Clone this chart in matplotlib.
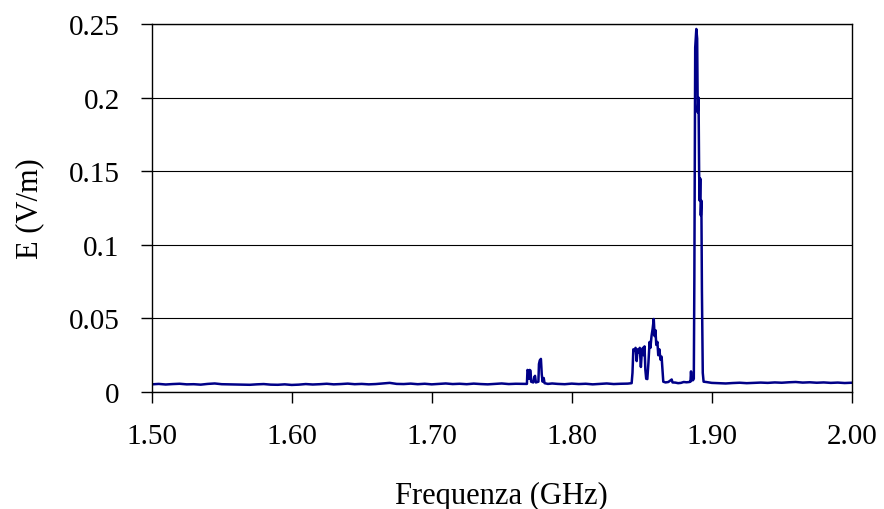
import matplotlib
matplotlib.use("Agg")
import matplotlib.pyplot as plt
from matplotlib.ticker import FormatStrFormatter, FuncFormatter

# frequency (GHz) and field strength (V/m)
freq = [
    1.500, 1.505, 1.510, 1.515, 1.520, 1.525, 1.530, 1.535, 1.540, 1.545,
    1.550, 1.555, 1.560, 1.565, 1.570, 1.575, 1.580, 1.585, 1.590, 1.595,
    1.600, 1.605, 1.610, 1.615, 1.620, 1.625, 1.630, 1.635, 1.640, 1.645,
    1.650, 1.655, 1.660, 1.665, 1.670, 1.675, 1.680, 1.685, 1.690, 1.695,
    1.700, 1.705, 1.710, 1.715, 1.720, 1.725, 1.730, 1.735, 1.740, 1.745,
    1.750, 1.755, 1.760, 1.765,
    # first small group
    1.7680, 1.7684, 1.7692, 1.7696, 1.7700, 1.7706, 1.7710, 1.7725, 1.7732,
    1.7738, 1.7744, 1.7762, 1.7766, 1.7772, 1.7780, 1.7786, 1.7792, 1.7800,
    1.7806, 1.7830,
    1.786, 1.790, 1.795, 1.800, 1.805, 1.810, 1.815, 1.820, 1.825, 1.830,
    1.835, 1.840, 1.8428,
    # second group
    1.8434, 1.8440, 1.8448, 1.8456, 1.8464, 1.8470, 1.8478, 1.8486, 1.8494,
    1.8500, 1.8508, 1.8514, 1.8520, 1.8526, 1.8532, 1.8540, 1.8548, 1.8556,
    1.8562, 1.8570, 1.8578, 1.8586, 1.8592, 1.8598, 1.8604, 1.8612, 1.8618,
    1.8626, 1.8634, 1.8642, 1.8648, 1.8654, 1.8670, 1.8690, 1.8714, 1.8720,
    1.8740, 1.8760, 1.8780, 1.8800, 1.8820, 1.8840, 1.8848, 1.8852, 1.8856,
    # main peak
    1.8866, 1.8872, 1.8876, 1.8882, 1.8890, 1.8896, 1.8900, 1.8906, 1.8910,
    1.8914, 1.8918, 1.8922, 1.8926, 1.8930, 1.8936, 1.8942, 1.8960,
    1.900, 1.905, 1.910, 1.915, 1.920, 1.925, 1.930, 1.935, 1.940, 1.945,
    1.950, 1.955, 1.960, 1.965, 1.970, 1.975, 1.980, 1.985, 1.990, 1.995,
    2.000,
]
e_field = [
    0.0052, 0.0055, 0.0051, 0.0054, 0.0056, 0.0052, 0.0053, 0.0050, 0.0055, 0.0058,
    0.0053, 0.0052, 0.0051, 0.0050, 0.0049, 0.0052, 0.0054, 0.0050, 0.0049, 0.0052,
    0.0048, 0.0050, 0.0054, 0.0051, 0.0053, 0.0056, 0.0052, 0.0054, 0.0057, 0.0053,
    0.0055, 0.0052, 0.0054, 0.0058, 0.0062, 0.0055, 0.0054, 0.0057, 0.0053, 0.0056,
    0.0052, 0.0055, 0.0058, 0.0054, 0.0056, 0.0053, 0.0057, 0.0054, 0.0052, 0.0055,
    0.0058, 0.0054, 0.0056, 0.0055,
    0.0055, 0.0150, 0.0140, 0.0090, 0.0150, 0.0145, 0.0070, 0.0065, 0.0100,
    0.0110, 0.0065, 0.0070, 0.0190, 0.0215, 0.0225, 0.0120, 0.0070, 0.0095,
    0.0060, 0.0055,
    0.0058, 0.0055, 0.0053, 0.0057, 0.0054, 0.0056, 0.0052, 0.0055, 0.0058, 0.0054,
    0.0056, 0.0057, 0.0060,
    0.0130, 0.0290, 0.0280, 0.0300, 0.0210, 0.0290, 0.0270, 0.0300, 0.0170,
    0.0260, 0.0300, 0.0250, 0.0310, 0.0150, 0.0090, 0.0088, 0.0200, 0.0340,
    0.0300, 0.0380, 0.0430, 0.0496, 0.0380, 0.0420, 0.0320, 0.0340, 0.0250,
    0.0290, 0.0220, 0.0240, 0.0160, 0.0070, 0.0065, 0.0068, 0.0085, 0.0065,
    0.0064, 0.0060, 0.0062, 0.0068, 0.0066, 0.0068, 0.0070, 0.0140, 0.0080,
    0.0080, 0.0090, 0.0780, 0.2340, 0.2466, 0.2400, 0.1900, 0.2000, 0.1490,
    0.1300, 0.1450, 0.1200, 0.1300, 0.0686, 0.0130, 0.0070, 0.0068,
    0.0062, 0.0060, 0.0058, 0.0061, 0.0063, 0.0060, 0.0062, 0.0064, 0.0062, 0.0065,
    0.0063, 0.0066, 0.0068, 0.0064, 0.0066, 0.0063, 0.0065, 0.0062, 0.0064, 0.0061,
    0.0063,
]

x_ticks = [1.50, 1.60, 1.70, 1.80, 1.90, 2.00]
y_ticks = [0, 0.05, 0.1, 0.15, 0.2, 0.25]

plt.rcParams["font.family"] = ["Liberation Serif", "DejaVu Serif"]

fig = plt.figure(figsize=(8.84, 5.10), dpi=100)
ax = fig.add_axes([0.1716, 0.2294, 0.7919, 0.7216])

ax.plot(freq, e_field, color="#000088", linewidth=1.8)

ax.set_xlim(1.5, 2.0)
ax.set_ylim(0, 0.25)
ax.set_xticks(x_ticks)
ax.set_yticks(y_ticks)
ax.xaxis.set_major_formatter(FormatStrFormatter("%.2f"))
ax.yaxis.set_major_formatter(FuncFormatter(lambda v, p: f"{v:g}"))

ax.yaxis.grid(True, color="black", linewidth=0.8)
ax.set_axisbelow(True)
for s in ax.spines.values():
    s.set_linewidth(1.0)
    s.set_color("black")

ax.tick_params(axis="both", direction="out", length=8, width=1.0,
               labelsize=21, colors="black")
ax.tick_params(axis="y", pad=15)
ax.tick_params(axis="x", pad=14)

ax.set_xlabel("Frequenza (GHz)", fontsize=22, labelpad=23)
ax.set_ylabel("E (V/m)", fontsize=22, labelpad=18)

fig.savefig("out.png", dpi=100)
